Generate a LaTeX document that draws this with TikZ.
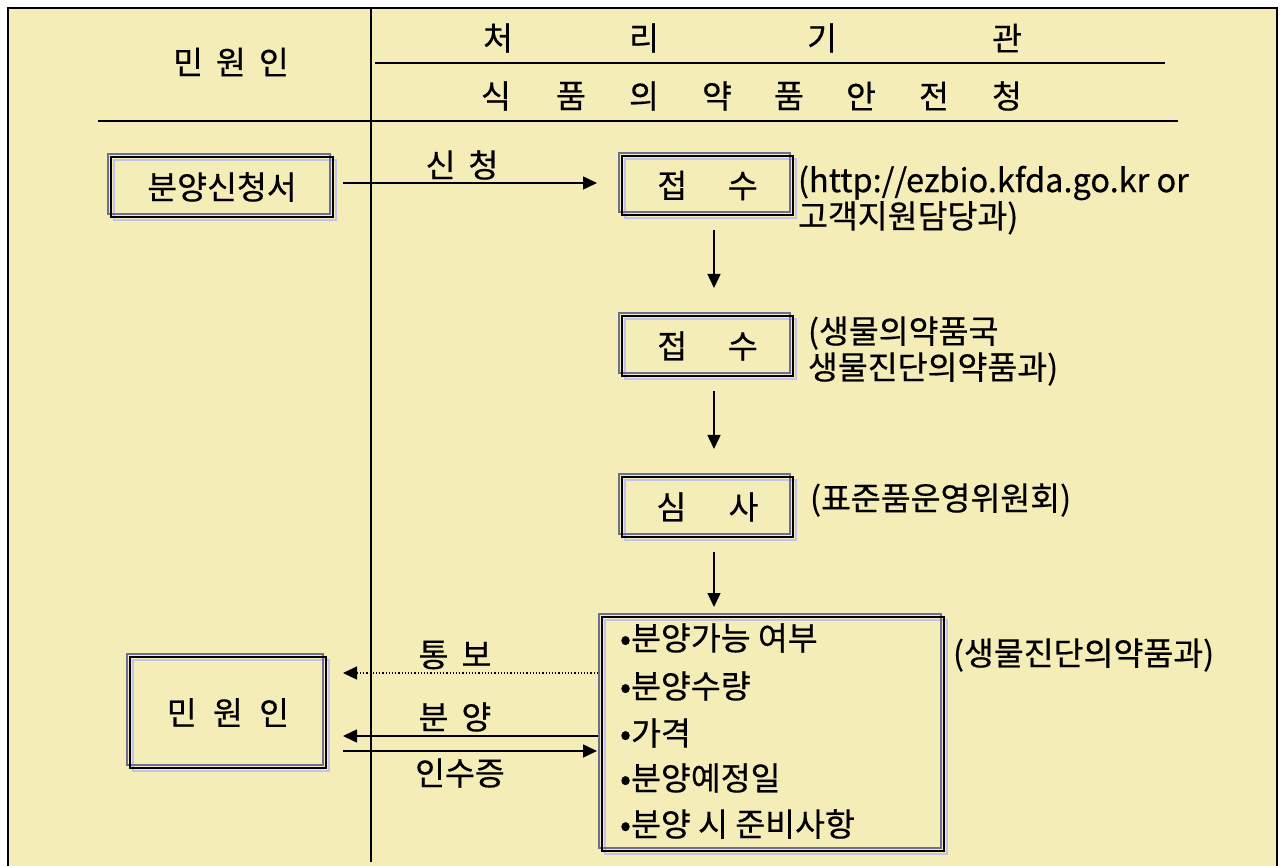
\documentclass[tikz,border=0pt]{standalone}
\usepackage{fontspec}
\setmainfont{Noto Sans CJK KR}[FakeBold=0.5]
\usetikzlibrary{arrows.meta}
\definecolor{bgyellow}{HTML}{F5EDB7}
\definecolor{boxgray}{HTML}{6E6E8E}
\definecolor{boxblue}{HTML}{C2C2EA}
\newcommand\boxdeco[1]{%
  \draw[boxblue,line width=2pt] ([shift={(3,3)}]#1.north west) rectangle ([shift={(3,3)}]#1.south east);
  \draw[boxgray,line width=2pt] ([shift={(-3,-3)}]#1.north west) rectangle ([shift={(-3,-3)}]#1.south east);
  \draw[line width=2pt,black] (#1.north west) rectangle (#1.south east);}
\begin{document}
\begin{tikzpicture}[x=1pt,y=-1pt,
  every node/.style={font=\fontsize{32.5}{36}\selectfont, inner sep=0pt, outer sep=0pt},
  arr/.style={line width=1.5pt, -{Triangle[length=14pt,width=13pt]}},
  note/.style={anchor=west, align=left},
  item/.style={anchor=west}]
\useasboundingbox (0,0) rectangle (1280,866);
\fill[white] (0,0) rectangle (1280,866);
\fill[bgyellow] (8,8) rectangle (1277,868);
\draw[line width=2pt] (8,870) -- (8,8) -- (1277,8) -- (1277,870);
\draw[line width=1.8pt] (371,8) -- (371,862);
\draw[line width=1.5pt] (375,63) -- (1165,63);
\draw[line width=1.5pt] (98,121) -- (1178,121);

% header
\node (hmin) at (231,62) {민\hspace{0.4em}원\hspace{0.4em}인};
\foreach \ch/\xx [count=\i] in {처/498,리/644,기/822,관/1007}
  \node (h\i) at (\xx,38) {\ch};
\foreach \ch/\xx [count=\i] in {식/496,품/571,의/644,약/717,품/789,안/861,전/934,청/1007}
  \node (s\i) at (\xx,96) {\ch};

% boxes
\node[minimum width=222pt, minimum height=60pt] (req) at (222,187) {분양신청서};
\node[minimum width=171pt, minimum height=59pt] (rc1) at (707.5,185.5) {접\hspace{1.25em}수};
\node[minimum width=171pt, minimum height=60pt] (rc2) at (707.5,346) {접\hspace{1.25em}수};
\node[minimum width=171pt, minimum height=60pt] (rev) at (707.5,507) {심\hspace{1.3em}사};
\node[minimum width=342pt, minimum height=234pt] (lst) at (773,734) {};
\node[minimum width=196pt, minimum height=111pt] (app) at (228,712.5) {민\hspace{0.5em}원\hspace{0.5em}인};
\boxdeco{req}\boxdeco{rc1}\boxdeco{rc2}\boxdeco{rev}\boxdeco{lst}\boxdeco{app}

% list items
\node[item] (li1) at (620,638) {•분양가능 여부};
\node[item] (li2) at (620,686) {•분양수량};
\node[item] (li3) at (620,733) {•가격};
\node[item] (li4) at (620,778) {•분양예정일};
\node[item] (li5) at (620,824) {•분양 시 준비사항};

% notes
\node[note] (n1) at (798,200) {(http://ezbio.kfda.go.kr or\\고객지원담당과)};
\node[note] (n2) at (808,351) {(생물의약품국\\생물진단의약품과)};
\node[note] (n3) at (810,500) {(표준품운영위원회)};
\node[note] (n4) at (953,655) {(생물진단의약품과)};

% connectors
\coordinate (yA) at (0,183);
\coordinate (yB) at (0,673);
\coordinate (yC) at (0,736);
\coordinate (yD) at (0,751);
\coordinate (xV) at (714,0);
\draw[arr, shorten <=10pt, shorten >=25pt] (req.east |- yA) -- (rc1.west |- yA);
\node (l1) at (462,165) {신\hspace{0.4em}청};
\draw[arr, shorten <=15pt, shorten >=28pt] (rc1.south -| xV) -- (rc2.north -| xV);
\draw[arr, shorten <=15pt, shorten >=28pt] (rc2.south -| xV) -- (rev.north -| xV);
\draw[arr, shorten <=15pt, shorten >=10pt] (rev.south -| xV) -- (lst.north -| xV);
\draw[line width=1.2pt, dotted, -{Triangle[length=14pt,width=13pt]}, shorten <=4pt, shorten >=17pt] (lst.west |- yB) -- (app.east |- yB);
\node (l2) at (455,655) {통\hspace{0.4em}보};
\draw[arr, shorten <=4pt, shorten >=17pt] (lst.west |- yC) -- (app.east |- yC);
\node (l3) at (455,717) {분\hspace{0.4em}양};
\draw[arr, shorten <=17pt, shorten >=5pt] (app.east |- yD) -- (lst.west |- yD);
\node (l4) at (460,773) {인수증};
\end{tikzpicture}
\end{document}
